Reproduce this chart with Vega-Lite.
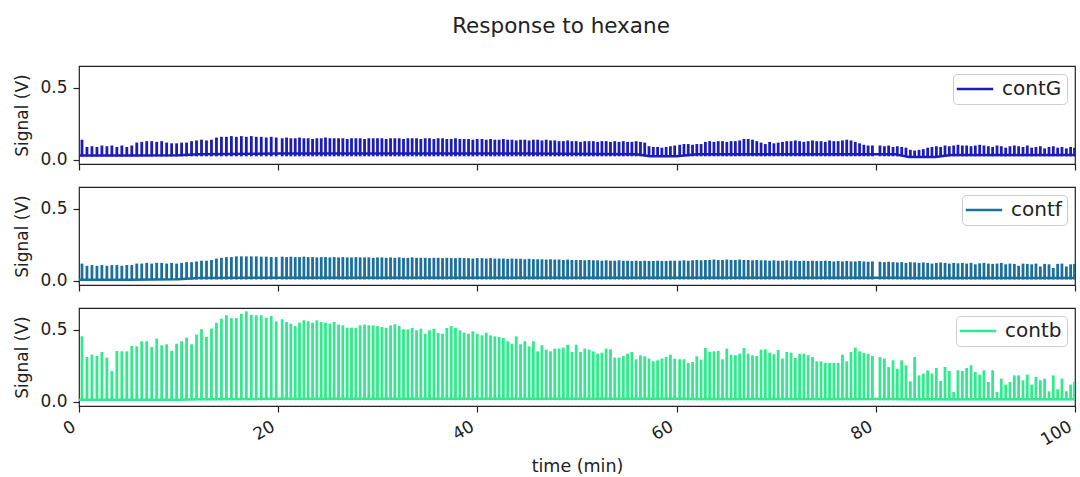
{
  "$schema": "https://vega.github.io/schema/vega-lite/v6.json",
  "padding": {"left": 13, "top": 16, "right": 4, "bottom": 0},
  "title": {"text": "Response to hexane", "fontSize": 21.5, "fontWeight": "normal", "color": "#222", "offset": 27.5, "anchor": "middle", "frame": "group", "dx": -16},
  "datasets": {
    "base": [
      {"t": 0, "G": 0.03, "f": 0.008, "b": 0.015},
      {"t": 5, "G": 0.03, "f": 0.008, "b": 0.015},
      {"t": 10, "G": 0.032, "f": 0.012, "b": 0.015},
      {"t": 12, "G": 0.04, "f": 0.02, "b": 0.018},
      {"t": 20, "G": 0.045, "f": 0.022, "b": 0.022},
      {"t": 45, "G": 0.045, "f": 0.022, "b": 0.022},
      {"t": 56, "G": 0.04, "f": 0.022, "b": 0.022},
      {"t": 57.3, "G": 0.025, "f": 0.022, "b": 0.022},
      {"t": 60, "G": 0.025, "f": 0.022, "b": 0.022},
      {"t": 62, "G": 0.04, "f": 0.022, "b": 0.02},
      {"t": 82, "G": 0.04, "f": 0.022, "b": 0.02},
      {"t": 83.3, "G": 0.02, "f": 0.02, "b": 0.018},
      {"t": 86, "G": 0.02, "f": 0.02, "b": 0.018},
      {"t": 87.5, "G": 0.035, "f": 0.02, "b": 0.018},
      {"t": 100, "G": 0.035, "f": 0.02, "b": 0.018}
    ],
    "spikes": [
      {"t":0.3,"G":0.14,"f":0.12,"b":0.454},
      {"t":0.8,"G":0.09,"f":0.105,"b":0.311},
      {"t":1.3,"G":0.095,"f":0.11,"b":0.327},
      {"t":1.8,"G":0.09,"f":0.105,"b":0.318},
      {"t":2.3,"G":0.1,"f":0.11,"b":0.346},
      {"t":2.8,"G":0.095,"f":0.105,"b":0.307},
      {"t":3.3,"G":0.1,"f":0.11,"b":0.214},
      {"t":3.8,"G":0.09,"f":0.11,"b":0.353},
      {"t":4.3,"G":0.1,"f":0.105,"b":0.35},
      {"t":4.8,"G":0.09,"f":0.11,"b":0.35},
      {"t":5.3,"G":0.1,"f":0.11,"b":0.387},
      {"t":5.8,"G":0.12,"f":0.12,"b":0.385},
      {"t":6.3,"G":0.125,"f":0.12,"b":0.42},
      {"t":6.8,"G":0.13,"f":0.125,"b":0.42},
      {"t":7.3,"G":0.13,"f":0.12,"b":0.38},
      {"t":7.8,"G":0.125,"f":0.125,"b":0.438},
      {"t":8.3,"G":0.13,"f":0.125,"b":0.392},
      {"t":8.8,"G":0.12,"f":0.12,"b":0.399},
      {"t":9.3,"G":0.115,"f":0.125,"b":0.353},
      {"t":9.8,"G":0.115,"f":0.12,"b":0.403},
      {"t":10.3,"G":0.12,"f":0.125,"b":0.42},
      {"t":10.8,"G":0.12,"f":0.13,"b":0.445},
      {"t":11.3,"G":0.13,"f":0.13,"b":0.399},
      {"t":11.8,"G":0.135,"f":0.135,"b":0.466},
      {"t":12.3,"G":0.14,"f":0.14,"b":0.503},
      {"t":12.8,"G":0.135,"f":0.14,"b":0.45},
      {"t":13.3,"G":0.14,"f":0.145,"b":0.507},
      {"t":13.8,"G":0.155,"f":0.155,"b":0.548},
      {"t":14.3,"G":0.16,"f":0.16,"b":0.576},
      {"t":14.8,"G":0.16,"f":0.165,"b":0.6},
      {"t":15.3,"G":0.165,"f":0.165,"b":0.58},
      {"t":15.8,"G":0.16,"f":0.17,"b":0.58},
      {"t":16.3,"G":0.165,"f":0.17,"b":0.61},
      {"t":16.8,"G":0.16,"f":0.17,"b":0.627},
      {"t":17.3,"G":0.165,"f":0.17,"b":0.603},
      {"t":17.8,"G":0.16,"f":0.17,"b":0.6},
      {"t":18.3,"G":0.16,"f":0.168,"b":0.6},
      {"t":18.8,"G":0.155,"f":0.168,"b":0.583},
      {"t":19.3,"G":0.16,"f":0.165,"b":0.595},
      {"t":19.8,"G":0.155,"f":0.165,"b":0.557},
      {"t":20.40,"G":0.15,"f":0.168,"b":0.572},
      {"t":20.84,"G":0.155,"f":0.165,"b":0.553},
      {"t":21.27,"G":0.15,"f":0.168,"b":0.542},
      {"t":21.71,"G":0.15,"f":0.165,"b":0.525},
      {"t":22.14,"G":0.155,"f":0.165,"b":0.549},
      {"t":22.58,"G":0.15,"f":0.168,"b":0.565},
      {"t":23.01,"G":0.15,"f":0.165,"b":0.558},
      {"t":23.45,"G":0.145,"f":0.165,"b":0.549},
      {"t":23.88,"G":0.15,"f":0.163,"b":0.565},
      {"t":24.32,"G":0.15,"f":0.165,"b":0.553},
      {"t":24.75,"G":0.155,"f":0.165,"b":0.549},
      {"t":25.19,"G":0.15,"f":0.163,"b":0.542},
      {"t":25.62,"G":0.15,"f":0.165,"b":0.553},
      {"t":26.06,"G":0.15,"f":0.163,"b":0.535},
      {"t":26.49,"G":0.15,"f":0.165,"b":0.53},
      {"t":26.93,"G":0.145,"f":0.163,"b":0.514},
      {"t":27.36,"G":0.15,"f":0.163,"b":0.514},
      {"t":27.80,"G":0.15,"f":0.165,"b":0.512},
      {"t":28.23,"G":0.15,"f":0.163,"b":0.53},
      {"t":28.67,"G":0.145,"f":0.163,"b":0.535},
      {"t":29.10,"G":0.15,"f":0.163,"b":0.53},
      {"t":29.54,"G":0.15,"f":0.16,"b":0.53},
      {"t":29.97,"G":0.15,"f":0.163,"b":0.525},
      {"t":30.41,"G":0.15,"f":0.163,"b":0.518},
      {"t":30.84,"G":0.145,"f":0.16,"b":0.512},
      {"t":31.28,"G":0.15,"f":0.163,"b":0.53},
      {"t":31.71,"G":0.15,"f":0.16,"b":0.537},
      {"t":32.15,"G":0.15,"f":0.163,"b":0.525},
      {"t":32.58,"G":0.145,"f":0.16,"b":0.503},
      {"t":33.02,"G":0.15,"f":0.16,"b":0.503},
      {"t":33.45,"G":0.15,"f":0.163,"b":0.512},
      {"t":33.89,"G":0.15,"f":0.16,"b":0.496},
      {"t":34.32,"G":0.145,"f":0.16,"b":0.507},
      {"t":34.76,"G":0.15,"f":0.16,"b":0.472},
      {"t":35.19,"G":0.15,"f":0.158,"b":0.496},
      {"t":35.63,"G":0.145,"f":0.16,"b":0.507},
      {"t":36.06,"G":0.15,"f":0.16,"b":0.477},
      {"t":36.50,"G":0.15,"f":0.158,"b":0.472},
      {"t":36.93,"G":0.145,"f":0.16,"b":0.512},
      {"t":37.37,"G":0.145,"f":0.158,"b":0.525},
      {"t":37.80,"G":0.15,"f":0.158,"b":0.512},
      {"t":38.24,"G":0.145,"f":0.16,"b":0.496},
      {"t":38.67,"G":0.145,"f":0.158,"b":0.479},
      {"t":39.11,"G":0.145,"f":0.158,"b":0.472},
      {"t":39.54,"G":0.14,"f":0.155,"b":0.489},
      {"t":39.98,"G":0.145,"f":0.158,"b":0.472},
      {"t":40.46,"G":0.145,"f":0.158,"b":0.461},
      {"t":40.89,"G":0.14,"f":0.155,"b":0.479},
      {"t":41.32,"G":0.145,"f":0.158,"b":0.461},
      {"t":41.75,"G":0.14,"f":0.155,"b":0.454},
      {"t":42.18,"G":0.14,"f":0.155,"b":0.45},
      {"t":42.61,"G":0.145,"f":0.155,"b":0.443},
      {"t":43.04,"G":0.14,"f":0.153,"b":0.42},
      {"t":43.47,"G":0.14,"f":0.155,"b":0.403},
      {"t":43.90,"G":0.135,"f":0.153,"b":0.454},
      {"t":44.33,"G":0.14,"f":0.153,"b":0.399},
      {"t":44.76,"G":0.14,"f":0.15,"b":0.42},
      {"t":45.19,"G":0.135,"f":0.153,"b":0.385},
      {"t":45.62,"G":0.14,"f":0.15,"b":0.42},
      {"t":46.05,"G":0.14,"f":0.15,"b":0.35},
      {"t":46.48,"G":0.135,"f":0.15,"b":0.392},
      {"t":46.91,"G":0.14,"f":0.148,"b":0.362},
      {"t":47.34,"G":0.135,"f":0.15,"b":0.35},
      {"t":47.77,"G":0.135,"f":0.148,"b":0.369},
      {"t":48.20,"G":0.13,"f":0.148,"b":0.369},
      {"t":48.63,"G":0.13,"f":0.145,"b":0.376},
      {"t":49.06,"G":0.135,"f":0.148,"b":0.396},
      {"t":49.49,"G":0.13,"f":0.145,"b":0.346},
      {"t":49.92,"G":0.13,"f":0.145,"b":0.396},
      {"t":50.35,"G":0.125,"f":0.145,"b":0.346},
      {"t":50.78,"G":0.13,"f":0.143,"b":0.369},
      {"t":51.21,"G":0.13,"f":0.145,"b":0.362},
      {"t":51.64,"G":0.13,"f":0.143,"b":0.35},
      {"t":52.07,"G":0.125,"f":0.143,"b":0.334},
      {"t":52.50,"G":0.13,"f":0.14,"b":0.341},
      {"t":52.93,"G":0.13,"f":0.143,"b":0.369},
      {"t":53.36,"G":0.125,"f":0.14,"b":0.364},
      {"t":53.79,"G":0.13,"f":0.14,"b":0.307},
      {"t":54.22,"G":0.125,"f":0.143,"b":0.307},
      {"t":54.65,"G":0.13,"f":0.14,"b":0.318},
      {"t":55.08,"G":0.125,"f":0.14,"b":0.334},
      {"t":55.51,"G":0.125,"f":0.138,"b":0.346},
      {"t":55.94,"G":0.13,"f":0.14,"b":0.295},
      {"t":56.37,"G":0.125,"f":0.138,"b":0.323},
      {"t":56.80,"G":0.12,"f":0.14,"b":0.316},
      {"t":57.23,"G":0.095,"f":0.138,"b":0.3},
      {"t":57.66,"G":0.09,"f":0.138,"b":0.281},
      {"t":58.09,"G":0.09,"f":0.14,"b":0.288},
      {"t":58.52,"G":0.085,"f":0.138,"b":0.3},
      {"t":58.95,"G":0.09,"f":0.138,"b":0.311},
      {"t":59.38,"G":0.095,"f":0.14,"b":0.327},
      {"t":59.81,"G":0.1,"f":0.14,"b":0.3},
      {"t":60.31,"G":0.105,"f":0.14,"b":0.295},
      {"t":60.74,"G":0.11,"f":0.143,"b":0.295},
      {"t":61.17,"G":0.11,"f":0.14,"b":0.27},
      {"t":61.60,"G":0.105,"f":0.143,"b":0.277},
      {"t":62.03,"G":0.11,"f":0.145,"b":0.316},
      {"t":62.46,"G":0.11,"f":0.143,"b":0.293},
      {"t":62.89,"G":0.125,"f":0.145,"b":0.373},
      {"t":63.32,"G":0.13,"f":0.145,"b":0.346},
      {"t":63.75,"G":0.125,"f":0.148,"b":0.35},
      {"t":64.18,"G":0.13,"f":0.145,"b":0.353},
      {"t":64.61,"G":0.13,"f":0.145,"b":0.295},
      {"t":65.04,"G":0.125,"f":0.148,"b":0.369},
      {"t":65.47,"G":0.13,"f":0.145,"b":0.327},
      {"t":65.90,"G":0.13,"f":0.145,"b":0.323},
      {"t":66.33,"G":0.135,"f":0.148,"b":0.334},
      {"t":66.76,"G":0.145,"f":0.145,"b":0.373},
      {"t":67.19,"G":0.145,"f":0.145,"b":0.334},
      {"t":67.62,"G":0.14,"f":0.143,"b":0.323},
      {"t":68.05,"G":0.13,"f":0.145,"b":0.318},
      {"t":68.48,"G":0.12,"f":0.143,"b":0.362},
      {"t":68.91,"G":0.11,"f":0.143,"b":0.364},
      {"t":69.34,"G":0.125,"f":0.14,"b":0.341},
      {"t":69.77,"G":0.115,"f":0.143,"b":0.33},
      {"t":70.20,"G":0.12,"f":0.14,"b":0.36},
      {"t":70.63,"G":0.125,"f":0.14,"b":0.3},
      {"t":71.06,"G":0.13,"f":0.143,"b":0.346},
      {"t":71.49,"G":0.13,"f":0.14,"b":0.341},
      {"t":71.92,"G":0.135,"f":0.14,"b":0.304},
      {"t":72.35,"G":0.13,"f":0.138,"b":0.334},
      {"t":72.78,"G":0.125,"f":0.14,"b":0.334},
      {"t":73.21,"G":0.13,"f":0.138,"b":0.323},
      {"t":73.64,"G":0.135,"f":0.14,"b":0.311},
      {"t":74.07,"G":0.13,"f":0.138,"b":0.281},
      {"t":74.50,"G":0.13,"f":0.138,"b":0.281},
      {"t":74.93,"G":0.125,"f":0.14,"b":0.27},
      {"t":75.36,"G":0.135,"f":0.138,"b":0.27},
      {"t":75.79,"G":0.13,"f":0.135,"b":0.27},
      {"t":76.22,"G":0.13,"f":0.138,"b":0.27},
      {"t":76.65,"G":0.135,"f":0.135,"b":0.327},
      {"t":77.08,"G":0.14,"f":0.138,"b":0.281},
      {"t":77.51,"G":0.135,"f":0.135,"b":0.346},
      {"t":77.94,"G":0.125,"f":0.135,"b":0.376},
      {"t":78.37,"G":0.115,"f":0.138,"b":0.35},
      {"t":78.80,"G":0.105,"f":0.135,"b":0.339},
      {"t":79.23,"G":0.1,"f":0.133,"b":0.334},
      {"t":79.66,"G":0.1,"f":0.135,"b":0.318},
      {"t":80.42,"G":0.1,"f":0.133,"b":0.311},
      {"t":80.86,"G":0.095,"f":0.13,"b":0.3},
      {"t":81.29,"G":0.1,"f":0.133,"b":0.242},
      {"t":81.73,"G":0.09,"f":0.13,"b":0.288},
      {"t":82.16,"G":0.095,"f":0.128,"b":0.23},
      {"t":82.60,"G":0.09,"f":0.13,"b":0.288},
      {"t":83.03,"G":0.085,"f":0.125,"b":0.254},
      {"t":83.47,"G":0.07,"f":0.13,"b":0.143},
      {"t":83.90,"G":0.065,"f":0.128,"b":0.311},
      {"t":84.34,"G":0.07,"f":0.125,"b":0.184},
      {"t":84.77,"G":0.075,"f":0.128,"b":0.196},
      {"t":85.21,"G":0.085,"f":0.125,"b":0.219},
      {"t":85.64,"G":0.09,"f":0.12,"b":0.196},
      {"t":86.08,"G":0.095,"f":0.125,"b":0.235},
      {"t":86.51,"G":0.09,"f":0.128,"b":0.145},
      {"t":86.95,"G":0.1,"f":0.125,"b":0.242},
      {"t":87.38,"G":0.095,"f":0.12,"b":0.214},
      {"t":87.82,"G":0.1,"f":0.125,"b":0.069},
      {"t":88.25,"G":0.105,"f":0.122,"b":0.219},
      {"t":88.69,"G":0.1,"f":0.125,"b":0.214},
      {"t":89.12,"G":0.1,"f":0.12,"b":0.235},
      {"t":89.56,"G":0.095,"f":0.125,"b":0.254},
      {"t":89.99,"G":0.1,"f":0.115,"b":0.207},
      {"t":90.43,"G":0.105,"f":0.122,"b":0.189},
      {"t":90.86,"G":0.1,"f":0.125,"b":0.219},
      {"t":91.30,"G":0.095,"f":0.12,"b":0.138},
      {"t":91.73,"G":0.09,"f":0.118,"b":0.219},
      {"t":92.17,"G":0.1,"f":0.12,"b":0.069},
      {"t":92.60,"G":0.095,"f":0.125,"b":0.161},
      {"t":93.04,"G":0.085,"f":0.115,"b":0.12},
      {"t":93.47,"G":0.095,"f":0.12,"b":0.138},
      {"t":93.91,"G":0.1,"f":0.118,"b":0.184},
      {"t":94.34,"G":0.095,"f":0.105,"b":0.184},
      {"t":94.78,"G":0.09,"f":0.12,"b":0.15},
      {"t":95.21,"G":0.1,"f":0.118,"b":0.189},
      {"t":95.65,"G":0.085,"f":0.115,"b":0.12},
      {"t":96.08,"G":0.09,"f":0.12,"b":0.173},
      {"t":96.52,"G":0.095,"f":0.1,"b":0.15},
      {"t":96.95,"G":0.08,"f":0.118,"b":0.161},
      {"t":97.39,"G":0.09,"f":0.115,"b":0.074},
      {"t":97.82,"G":0.095,"f":0.09,"b":0.184},
      {"t":98.26,"G":0.085,"f":0.118,"b":0.088},
      {"t":98.69,"G":0.09,"f":0.12,"b":0.161},
      {"t":99.13,"G":0.08,"f":0.1,"b":0.074},
      {"t":99.56,"G":0.09,"f":0.115,"b":0.12},
      {"t":99.95,"G":0.085,"f":0.118,"b":0.138}
    ]
  },
  "spacing": 14,
  "resolve": {"scale": {"color": "independent"}, "legend": {"color": "independent"}},
  "vconcat": [
    {
      "width": 996, "height": 98,
      "layer": [
        {
          "data": {"name": "spikes"},
          "mark": {"type": "rule", "strokeWidth": 2.8, "clip": true},
          "encoding": {
            "x": {"field": "t", "type": "quantitative", "scale": {"domain": [0, 100], "nice": false}, "axis": {"values": [0, 20, 40, 60, 80, 100], "labels": false, "title": null}},
            "y": {"field": "G", "type": "quantitative", "scale": {"domain": [-0.028, 0.65], "nice": false, "zero": false}, "axis": {"values": [0, 0.5], "format": ".1f", "title": "Signal (V)", "labelPadding": 6, "titlePadding": 8}},
            "y2": {"datum": 0.025},
            "color": {"datum": "contG", "type": "nominal", "scale": {"domain": ["contG"], "range": ["#1c1cb8"]}, "legend": {"title": null, "orient": "top-right", "offset": 8}}
          }
        },
        {
          "data": {"name": "base"},
          "mark": {"type": "line", "strokeWidth": 2.5, "color": "#1c1cb8", "clip": true},
          "encoding": {"x": {"field": "t", "type": "quantitative"}, "y": {"field": "G", "type": "quantitative"}}
        }
      ]
    },
    {
      "width": 996, "height": 98,
      "layer": [
        {
          "data": {"name": "spikes"},
          "mark": {"type": "rule", "strokeWidth": 2.8, "clip": true},
          "encoding": {
            "x": {"field": "t", "type": "quantitative", "scale": {"domain": [0, 100], "nice": false}, "axis": {"values": [0, 20, 40, 60, 80, 100], "labels": false, "title": null}},
            "y": {"field": "f", "type": "quantitative", "scale": {"domain": [-0.028, 0.65], "nice": false, "zero": false}, "axis": {"values": [0, 0.5], "format": ".1f", "title": "Signal (V)", "labelPadding": 6, "titlePadding": 8}},
            "y2": {"datum": 0.01},
            "color": {"datum": "contf", "type": "nominal", "scale": {"domain": ["contf"], "range": ["#1a6f9c"]}, "legend": {"title": null, "orient": "top-right", "offset": 8}}
          }
        },
        {
          "data": {"name": "base"},
          "mark": {"type": "line", "strokeWidth": 2.5, "color": "#1a6f9c", "clip": true},
          "encoding": {"x": {"field": "t", "type": "quantitative"}, "y": {"field": "f", "type": "quantitative"}}
        }
      ]
    },
    {
      "width": 996, "height": 98,
      "layer": [
        {
          "data": {"name": "spikes"},
          "mark": {"type": "rule", "strokeWidth": 2.8, "clip": true},
          "encoding": {
            "x": {"field": "t", "type": "quantitative", "scale": {"domain": [0, 100], "nice": false}, "axis": {"values": [0, 20, 40, 60, 80, 100], "format": "d", "labelAngle": -30, "labelAlign": "right", "labelBaseline": "top", "labelPadding": 6, "labelOffset": -9, "title": "time (min)", "titleFontSize": 17.5, "titlePadding": 9}},
            "y": {"field": "b", "type": "quantitative", "scale": {"domain": [-0.028, 0.65], "nice": false, "zero": false}, "axis": {"values": [0, 0.5], "format": ".1f", "title": "Signal (V)", "labelPadding": 6, "titlePadding": 8}},
            "y2": {"datum": 0.012},
            "color": {"datum": "contb", "type": "nominal", "scale": {"domain": ["contb"], "range": ["#33e88e"]}, "legend": {"title": null, "orient": "top-right", "offset": 8}}
          }
        },
        {
          "data": {"name": "base"},
          "mark": {"type": "line", "strokeWidth": 2.5, "color": "#33e88e", "clip": true},
          "encoding": {"x": {"field": "t", "type": "quantitative"}, "y": {"field": "b", "type": "quantitative"}}
        }
      ]
    }
  ],
  "config": {
    "font": "DejaVu Sans",
    "view": {"stroke": "#222", "strokeWidth": 1.2},
    "axis": {"grid": false, "domain": false, "ticks": true, "tickColor": "#222", "tickSize": 6, "tickWidth": 1.2, "labelColor": "#222", "titleColor": "#222", "labelFontSize": 17, "titleFontSize": 17, "titleFontWeight": "normal"},
    "legend": {"symbolType": "M-2.6,0H2.6", "symbolSize": 196, "symbolOffset": 7, "symbolStrokeWidth": 2.5, "labelFontSize": 20, "labelColor": "#222", "labelOffset": 17, "padding": 5, "strokeColor": "#cccccc", "fillColor": "white", "cornerRadius": 4}
  }
}
